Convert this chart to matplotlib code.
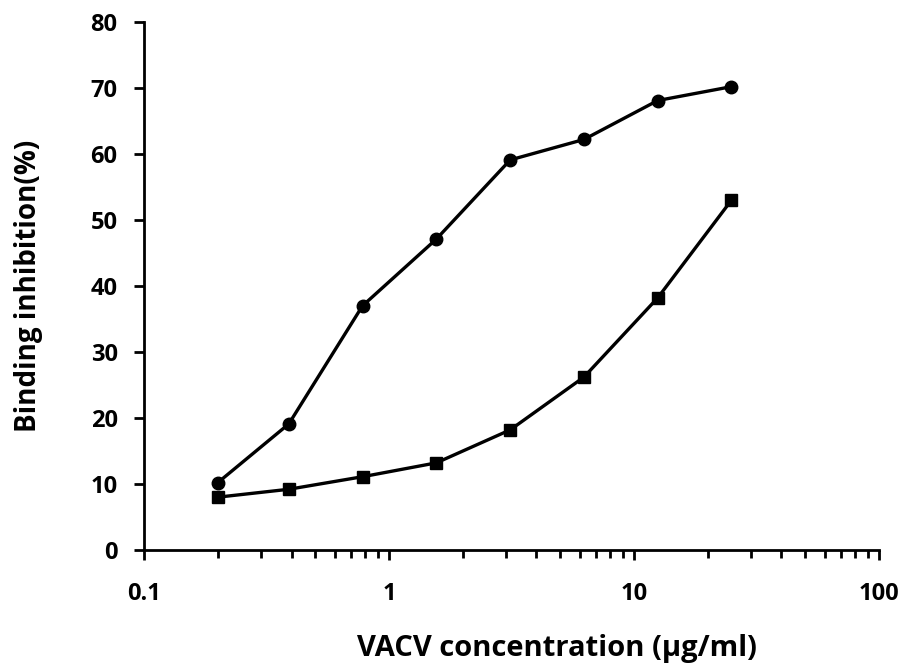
import numpy as np
import matplotlib
matplotlib.use('Agg')
from matplotlib import pyplot as plt
from matplotlib.ticker import LogLocator, FixedLocator, NullFormatter

# concentrations (ug/ml), two-fold dilution series
conc = [0.2, 0.39, 0.78, 1.56, 3.125, 6.25, 12.5, 25]
inhib_circle = [10.2, 19.1, 37.0, 47.1, 59.1, 62.2, 68.1, 70.2]
inhib_square = [8.0, 9.2, 11.1, 13.2, 18.2, 26.2, 38.2, 53.0]
x_ticks = [0.1, 1, 10, 100]
x_tick_labels = ['0.1', '1', '10', '100']
y_ticks = [0, 10, 20, 30, 40, 50, 60, 70, 80]

plt.rcParams['font.family'] = ['Open Sans', 'DejaVu Sans']
plt.rcParams['font.weight'] = 'bold'

fig = plt.figure(figsize=(9.08, 6.66), dpi=100)
ax = fig.add_axes([0.1586, 0.1742, 0.8094, 0.7928])

ax.plot(conc, inhib_circle, c='k', lw=2.4, marker='o', ms=9, zorder=3)
ax.plot(conc, inhib_square, c='k', lw=2.4, marker='s', ms=9, zorder=3)

ax.set_xscale('log')
ax.set_xlim(0.1, 100)
ax.set_ylim(0, 80)
ax.xaxis.set_major_locator(FixedLocator(x_ticks))
ax.set_xticklabels(x_tick_labels)
ax.xaxis.set_minor_locator(LogLocator(base=10, subs=np.arange(2, 10)))
ax.xaxis.set_minor_formatter(NullFormatter())
ax.set_yticks(y_ticks)

for s in ['top', 'right']:
    ax.spines[s].set_visible(False)
for s in ['left', 'bottom']:
    ax.spines[s].set_linewidth(2)

ax.tick_params(axis='both', which='major', direction='out', length=7, width=2,
               labelsize=17, pad=12)
ax.tick_params(axis='x', which='minor', direction='out', length=6, width=2)
ax.tick_params(axis='x', which='major', pad=16)

ax.set_xlabel('VACV concentration (μg/ml)', fontsize=21, fontweight='bold', labelpad=20)
ax.xaxis.label.set_x(0.562)
ax.set_ylabel('Binding inhibition(%)', fontsize=20, fontweight='bold', labelpad=34)

fig.savefig('out.png', dpi=100)
